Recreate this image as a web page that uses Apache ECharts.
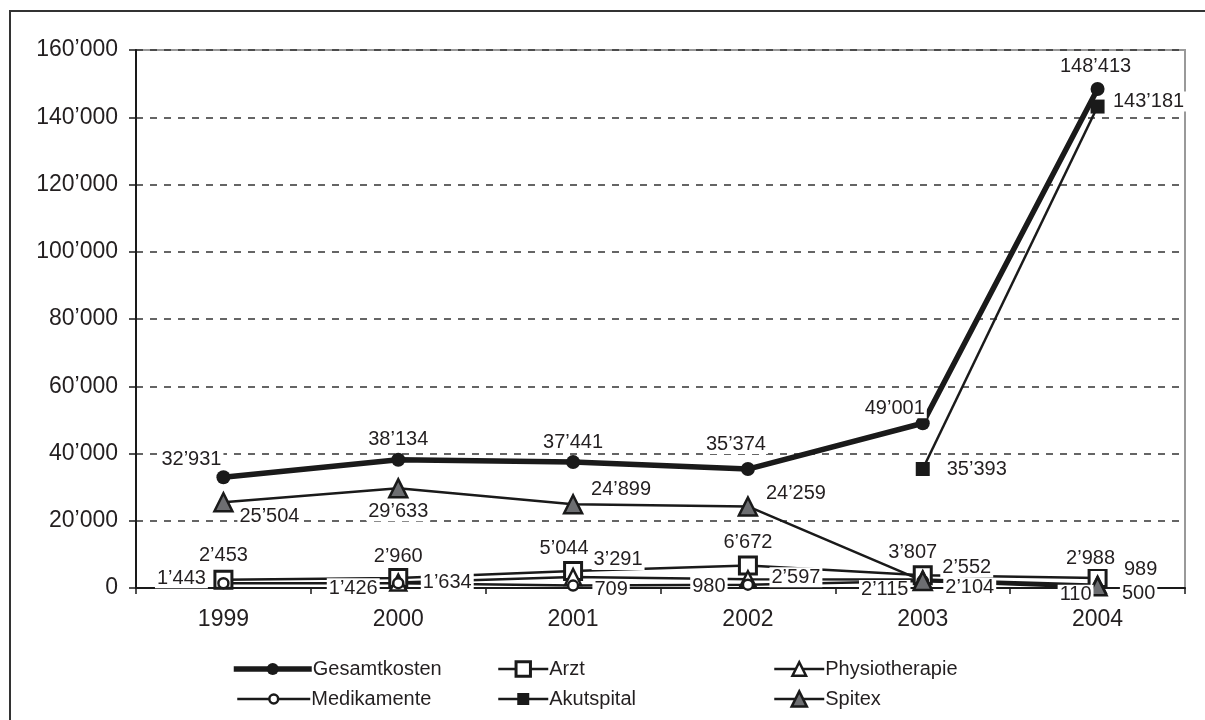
<!DOCTYPE html>
<html>
<head>
<meta charset="UTF-8" />
<title>Kosten</title>
<script src="https://cdn.jsdelivr.net/npm/echarts@6/dist/echarts.min.js"></script>
<style>
  html, body { margin: 0; padding: 0; background: #fff; }
  #chart { width: 1205px; height: 720px; }
</style>
</head>
<body>
<div id="chart"></div>
<script>
// Daten
var years = ['1999', '2000', '2001', '2002', '2003', '2004'];
var gesamtkosten = [32931, 38134, 37441, 35374, 49001, 148413];
var arzt = [2453, 2960, 5044, 6672, 3807, 2988];
var physiotherapie = [null, 1634, 3291, 2597, 2552, 989];
var medikamente = [1443, 1426, 709, 980, 2115, 110];
var akutspital = [null, null, null, null, 35393, 143181];
var spitex = [25504, 29633, 24899, 24259, 2104, 500];
var yTicks = [0, 20000, 40000, 60000, 80000, 100000, 120000, 140000, 160000];

// Label-Verschiebung je Punkt [dx, dy]
var offGes = [[-32, -18], [0, -20], [0, -20], [-12, -25], [-28, -15], [-2, -22]];
var offArzt = [[0, -24], [0, -22], [-9, -23], [0, -23], [-10, -23], [-7, -19]];
var offPhys = [null, [49, 0], [45, -17], [48, -2], [44, -12], [43, -15]];
var offMed = [[-42, -5], [-45, 5], [38, 4], [-39, 2], [-38, 9], [-22, 7]];
var offAkut = [null, null, null, null, [54, 0], [51, -5]];
var offSpi = [[46, 14], [0, 23], [48, -15], [48, -13], [47, 7], [41, 7]];

function fmt(v) {
  return String(v).replace(/\B(?=(\d{3})+(?!\d))/g, '\u2019');
}

function pts(vals, offs) {
  return vals.map(function (v, i) {
    if (v == null) return null;
    return { value: v, label: { offset: offs[i] } };
  });
}

var txt = '#231f20';
var ink = '#1a1a1a';
var font = '"Liberation Sans", Arial, sans-serif';
var tri = 'path://M0,10 L5,0 L10,10 Z';

// name, lineWidth, symbol, size, fill, border
var styles = {
  'Gesamtkosten':   [5.5, 'circle', 14, ink, 0],
  'Arzt':           [2.5, 'rect', 17, '#fff', 3],
  'Physiotherapie': [2.5, tri, 16, '#fff', 2.5],
  'Medikamente':    [2.5, 'circle', 10, '#fff', 2.5],
  'Akutspital':     [2.5, 'rect', 14, ink, 0],
  'Spitex':         [2.5, tri, 18, '#6d6e71', 2.5]
};

function mkSeries(name, vals, offs) {
  var s = styles[name];
  return {
    name: name,
    type: 'line',
    data: pts(vals, offs),
    connectNulls: false,
    symbol: s[1],
    symbolSize: s[2],
    showAllSymbol: true,
    lineStyle: { color: ink, width: s[0] },
    itemStyle: { color: s[3], borderColor: ink, borderWidth: s[4] },
    label: {
      show: true,
      position: 'inside',
      align: 'center',
      verticalAlign: 'middle',
      formatter: function (p) { return fmt(p.value); },
      color: txt,
      fontFamily: font,
      fontSize: 20,
      backgroundColor: '#fff',
      padding: [0, 2]
    },
    emphasis: { disabled: true },
    animation: false
  };
}

var series = [
  mkSeries('Gesamtkosten', gesamtkosten, offGes),
  mkSeries('Arzt', arzt, offArzt),
  mkSeries('Physiotherapie', physiotherapie, offPhys),
  mkSeries('Medikamente', medikamente, offMed),
  mkSeries('Akutspital', akutspital, offAkut),
  mkSeries('Spitex', spitex, offSpi)
];

function leg(name, left, top, w) {
  var s = styles[name];
  return {
    data: [{
      name: name,
      lineStyle: { color: ink, width: s[0] },
      itemStyle: { color: s[3], borderColor: ink, borderWidth: s[4] }
    }],
    left: left,
    top: top,
    itemWidth: w,
    itemHeight: s[2] + 1,
    itemGap: 0,
    textStyle: { color: txt, fontFamily: font, fontSize: 20, padding: [0, 0, 0, -4] },
    selectedMode: false
  };
}

var chart = echarts.init(document.getElementById('chart'));
chart.setOption({
  backgroundColor: '#fff',
  animation: false,
  graphic: [{
    type: 'rect',
    shape: { x: 10, y: 11, width: 1200, height: 720 },
    style: { fill: 'none', stroke: '#333', lineWidth: 2 },
    silent: true
  }],
  grid: {
    left: 136, right: 20, top: 50, bottom: 132,
    show: true, borderColor: '#999', borderWidth: 2, backgroundColor: 'transparent'
  },
  legend: [
    leg('Gesamtkosten', 226, 654, 78),
    leg('Arzt', 492, 654, 50),
    leg('Physiotherapie', 768, 654, 50),
    leg('Medikamente', 231, 684, 73),
    leg('Akutspital', 492, 684, 50),
    leg('Spitex', 768, 684, 50)
  ],
  xAxis: {
    type: 'category',
    data: years,
    boundaryGap: true,
    axisLine: { lineStyle: { color: ink, width: 2 } },
    axisTick: { show: true, length: 6, lineStyle: { color: ink, width: 1.5 } },
    axisLabel: { color: txt, fontFamily: font, fontSize: 23, margin: 20 }
  },
  yAxis: {
    type: 'value',
    min: yTicks[0],
    max: yTicks[yTicks.length - 1],
    interval: yTicks[1] - yTicks[0],
    axisLine: { show: true, lineStyle: { color: ink, width: 2 } },
    axisTick: { show: true, length: 7, lineStyle: { color: ink, width: 1.5 } },
    axisLabel: { color: txt, fontFamily: font, fontSize: 23, margin: 18, formatter: fmt },
    splitLine: { show: true, lineStyle: { color: '#333', width: 1.5, type: [7, 7] } }
  },
  series: series
});
</script>
</body>
</html>
